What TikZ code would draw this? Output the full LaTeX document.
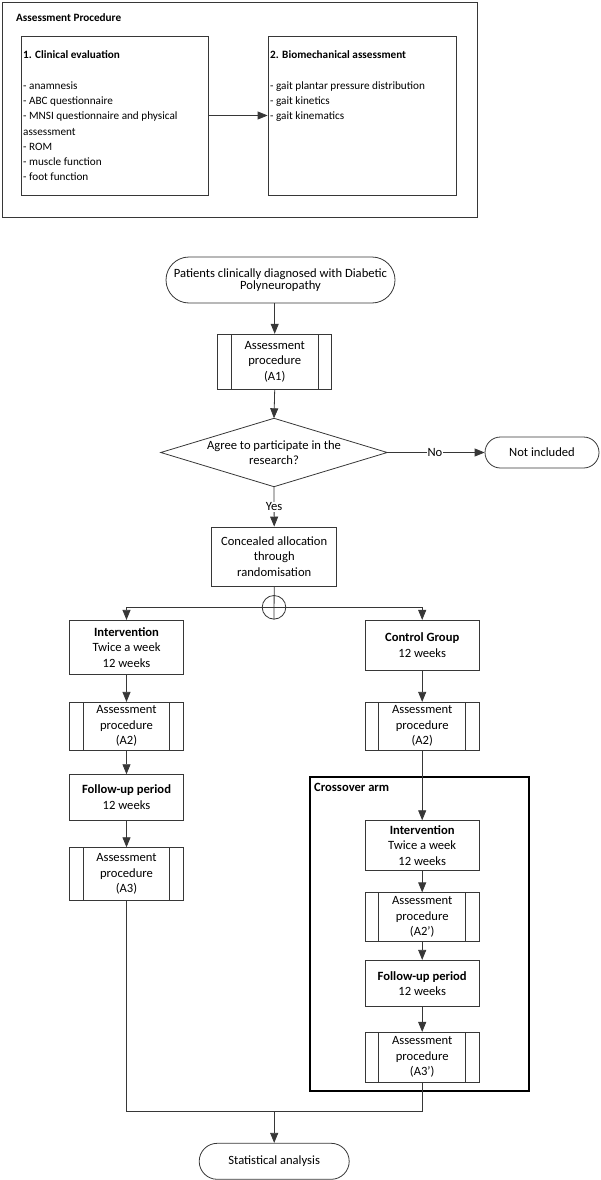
\documentclass[tikz,border=0pt]{standalone}
\usepackage{fontspec}
\setmainfont{Carlito}
\usetikzlibrary{arrows.meta,calc}
\definecolor{ln}{RGB}{55,55,55}
\tikzset{
  box/.style={draw=ln, line width=0.8pt, rectangle, inner sep=0pt, align=center,
    font=\fontsize{12.6}{15.5}\selectfont},
  topbox/.style={draw=ln, line width=0.8pt, rectangle, inner sep=0pt},
  toptext/.style={inner sep=0pt, anchor=north west, align=left,
    font=\fontsize{11.2}{15.3}\selectfont},
  term/.style={box},
  predef/.style={box, path picture={
    \draw[ln, line width=0.8pt] ([xshift=#1]path picture bounding box.north west) -- ([xshift=#1]path picture bounding box.south west);
    \draw[ln, line width=0.8pt] ([xshift=-#1]path picture bounding box.north east) -- ([xshift=-#1]path picture bounding box.south east);}},
  conn/.style={draw=ln, line width=0.8pt},
  arr/.style={conn, -{Triangle[length=10pt,width=8pt]}},
  lbl/.style={fill=white, inner sep=1pt, font=\fontsize{12.6}{15.5}\selectfont},
}
\begin{document}
\begin{tikzpicture}[x=1pt,y=-1pt]
\useasboundingbox (0,0) rectangle (600,1180);
% ---------- top panel ----------
\node[topbox, minimum width=474.5pt, minimum height=215pt] (outer) at (239.75,110) {};
\node[inner sep=0pt, anchor=west, font=\fontsize{11.2}{15.3}\selectfont\bfseries] (ttl) at (16,18) {Assessment Procedure};
\node[topbox, minimum width=187pt, minimum height=159pt] (c1) at (114.5,115.5) {};
\node[topbox, minimum width=188pt, minimum height=159pt] (c2) at (362,115.5) {};
\node[toptext] (t1) at (23,50.5) {\textbf{1. Clinical evaluation}\\[15.3pt]
- anamnesis\\- ABC questionnaire\\- MNSI questionnaire and physical\\assessment\\- ROM\\- muscle function\\- foot function};
\node[toptext] (t2) at (270,50.5) {\textbf{2. Biomechanical assessment}\\[15.3pt]
- gait plantar pressure distribution\\- gait kinetics\\- gait kinematics};
\draw[arr] (c1) -- (c2);
% ---------- flowchart ----------
\node[term, rounded corners=23pt, minimum width=229pt, minimum height=46pt,
  font=\fontsize{12.6}{12.5}\selectfont] (start) at (280.5,280)
  {Patients clinically diagnosed with Diabetic\\Polyneuropathy};
\node[predef=13.5pt, minimum width=114pt, minimum height=55pt] (a1) at (274.7,361.7)
  {Assessment\\procedure\\(A1)};
\node[inner sep=0pt, minimum width=226pt, minimum height=68pt, align=center,
  font=\fontsize{12.6}{15.5}\selectfont] (dia) at (274,452.5)
  {Agree to participate in the\\research?};
\draw[ln, line width=0.8pt] (dia.north) -- (dia.east) -- (dia.south) -- (dia.west) -- cycle;
\node[term, rounded corners=15.5pt, minimum width=114pt, minimum height=31pt] (notinc) at (542,452.5) {Not included};
\node[box, minimum width=125pt, minimum height=59pt] (conc) at (274.2,556.5)
  {Concealed allocation\\through\\randomisation};
\node[circle, draw=ln, line width=0.8pt, minimum size=23.6pt, inner sep=0pt] (junc) at (274,607.3) {};
% left arm
\node[box, minimum width=114.4pt, minimum height=54pt] (iv1) at (126.5,647.3)
  {\textbf{Intervention}\\Twice a week\\12 weeks};
\node[predef=14pt, minimum width=114.4pt, minimum height=48pt] (a2l) at (126.5,726.3)
  {Assessment\\procedure\\(A2)};
\node[box, minimum width=114.4pt, minimum height=45.3pt] (fu1) at (126.5,797.3)
  {\textbf{Follow-up period}\\12 weeks};
\node[predef=14pt, minimum width=114.4pt, minimum height=52.6pt] (a3l) at (126.5,874)
  {Assessment\\procedure\\(A3)};
% right arm
\node[box, minimum width=113.7pt, minimum height=49.7pt] (cg) at (422.2,645.2)
  {\textbf{Control Group}\\12 weeks};
\node[predef=13.5pt, minimum width=113.7pt, minimum height=48pt] (a2r) at (422.2,726.3)
  {Assessment\\procedure\\(A2)};
\node[draw=black, line width=2pt, minimum width=218.7pt, minimum height=313.7pt, inner sep=0pt] (cross) at (419.65,933.85) {};
\node[inner sep=0pt, anchor=west, font=\fontsize{12.6}{15.5}\selectfont\bfseries] (crosslbl) at (314,787.7) {Crossover arm};
\node[box, minimum width=113.7pt, minimum height=49.6pt] (iv2) at (422.2,845.5)
  {\textbf{Intervention}\\Twice a week\\12 weeks};
\node[predef=13.5pt, minimum width=113.7pt, minimum height=48.3pt] (a2p) at (422.2,916.9)
  {Assessment\\procedure\\(A2')};
\node[box, minimum width=113.7pt, minimum height=46.4pt] (fu2) at (422.2,983.5)
  {\textbf{Follow-up period}\\12 weeks};
\node[predef=13.5pt, minimum width=113.7pt, minimum height=49.7pt] (a3p) at (422.2,1057.2)
  {Assessment\\procedure\\(A3')};
\coordinate (merge) at (274.2,1111.3);
\node[term, rounded corners=18pt, minimum width=150pt, minimum height=36pt] (stat) at (274.2,1161.3) {Statistical analysis};
% connectors
\draw[arr] (a1 |- start.south) -- (a1.north);
\draw[arr] (a1.south) -- (dia.north);
\draw[arr] (dia.east) -- node[lbl, pos=0.49] {No} (notinc.west);
\draw[arr] (dia.south) -- node[lbl, pos=0.5] {Yes} (conc.north);
\draw[conn] (conc.south) -- (junc.south);
\draw[arr] (junc.center) -| (iv1.north);
\draw[arr] (junc.center) -| (cg.north);
\draw[arr] (iv1) -- (a2l);
\draw[arr] (a2l) -- (fu1);
\draw[arr] (fu1) -- (a3l);
\draw[arr] (cg) -- (a2r);
\draw[arr] (a2r) -- (iv2);
\draw[arr] (iv2) -- (a2p);
\draw[arr] (a2p) -- (fu2);
\draw[arr] (fu2) -- (a3p);
\draw[conn] (a3l.south) |- (merge) -| (a3p.south);
\draw[arr] (merge) -- (stat.north);
\end{tikzpicture}
\end{document}
